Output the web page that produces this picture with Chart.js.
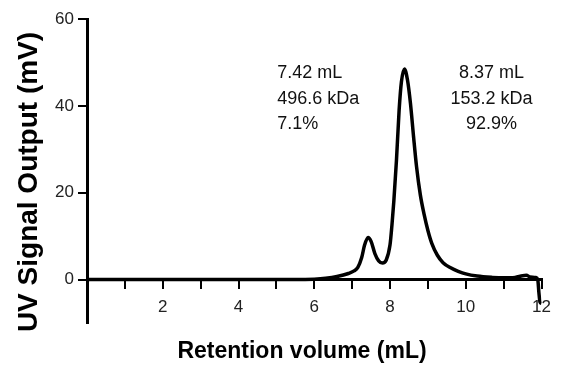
<!DOCTYPE html>
<html lang="en">
<head>
    <meta charset="UTF-8">
    <title>UV trace</title>
    <script src="https://cdn.jsdelivr.net/npm/chart.js"></script>
    <style>
        body {
            margin: 0;
            background: #fff;
        }
        .wrap {
            width: 561px;
            height: 370px;
        }
    </style>
</head>
<body>
    <div class="wrap"><canvas id="traceChart"></canvas></div>

    <script>
        // retention volume (mL) and UV signal (mV)
        const volume = [0, 1, 2, 3, 4, 5, 5.5, 6.0, 6.3, 6.6, 6.9, 7.05, 7.15, 7.25, 7.33, 7.42, 7.5, 7.6, 7.7, 7.8,
            7.9, 8.0, 8.05, 8.1, 8.17, 8.24, 8.3, 8.38, 8.46, 8.54, 8.62, 8.7, 8.8, 8.9, 9.0, 9.1, 9.25, 9.4, 9.6, 9.8,
            10.0, 10.3, 10.7, 11.0, 11.3, 11.5, 11.6, 11.7, 11.85, 11.9, 11.93, 11.96, 12.0];
        const signal = [0, 0, 0, 0, 0, 0, 0, 0.1, 0.3, 0.7, 1.4, 2.0, 2.8, 5.0, 8.0, 9.7, 8.8, 6.0, 4.3, 3.8,
            4.5, 8.0, 12.5, 18, 27.5, 39, 45.5, 48.5, 46, 40.5, 33, 26, 19.5, 15, 11.3, 8.4, 5.6, 3.9, 2.7, 1.9,
            1.3, 0.8, 0.5, 0.4, 0.5, 0.9, 1.0, 0.6, 0.5, 0, -3, -5.2, -5.5];

        const xTicks = [1, 2, 3, 4, 5, 6, 7, 8, 9, 10, 11, 12];
        const yTicks = [0, 20, 40, 60];

        // peak notes: anchor volume, alignment, lines
        const peakNotes = [
            { at: 5.02, align: 'left', lines: ['7.42 mL', '496.6 kDa', '7.1%'] },
            { at: 10.68, align: 'center', lines: ['8.37 mL', '153.2 kDa', '92.9%'] }
        ];
        const xTitle = 'Retention volume (mL)';
        const yTitle = 'UV Signal Output (mV)';

        const FONT = "'Liberation Sans', Arial, sans-serif";

        const textPlugin = {
            id: 'texts',
            afterDraw(chart) {
                const ctx = chart.ctx;
                const xs = chart.scales.x, ys = chart.scales.y;
                ctx.save();
                ctx.fillStyle = '#111';
                ctx.font = '18px ' + FONT;
                ctx.textBaseline = 'alphabetic';
                peakNotes.forEach(n => {
                    ctx.textAlign = n.align;
                    const px = xs.getPixelForValue(n.at);
                    n.lines.forEach((t, i) => {
                        ctx.fillText(t, px, ys.getPixelForValue(46.4) + i * 25.5);
                    });
                });

                // axis titles
                ctx.fillStyle = '#000';
                ctx.font = 'bold 23px ' + FONT;
                ctx.textAlign = 'center';
                ctx.fillText(xTitle, 302, 358);

                ctx.translate(37, 182);
                ctx.rotate(-Math.PI / 2);
                ctx.font = 'bold 28px ' + FONT;
                ctx.fillText(yTitle, 0, 0);
                ctx.restore();
            }
        };

        new Chart(document.getElementById('traceChart'), {
            type: 'line',
            data: {
                datasets: [{
                    data: volume.map((v, i) => ({ x: v, y: signal[i] })),
                    borderColor: '#000',
                    borderWidth: 3.5,
                    pointRadius: 0,
                    fill: false,
                    cubicInterpolationMode: 'monotone'
                }]
            },
            options: {
                responsive: true,
                maintainAspectRatio: false,
                animation: false,
                layout: { padding: { top: 19, right: 18, left: 0, bottom: 47 } },
                plugins: {
                    legend: { display: false },
                    tooltip: { enabled: false }
                },
                scales: {
                    x: {
                        type: 'linear',
                        min: 0,
                        max: 12,
                        position: { y: 0 },
                        afterBuildTicks: s => { s.ticks = xTicks.map(v => ({ value: v })); },
                        grid: {
                            drawOnChartArea: false,
                            drawTicks: true,
                            tickLength: 8,
                            color: '#000',
                            lineWidth: 2
                        },
                        border: { display: true, color: '#000', width: 3 },
                        ticks: {
                            autoSkip: false,
                            maxRotation: 0,
                            padding: 10,
                            color: '#222',
                            font: { size: 17, family: FONT },
                            callback: v => (v % 2 === 0 ? String(v) : '')
                        }
                    },
                    y: {
                        min: -10,
                        max: 60,
                        afterBuildTicks: s => { s.ticks = yTicks.map(v => ({ value: v })); },
                        afterFit: s => { s.width = 87; },
                        grid: {
                            drawOnChartArea: false,
                            drawTicks: true,
                            tickLength: 9,
                            color: '#000',
                            lineWidth: 2
                        },
                        border: { display: true, color: '#000', width: 3 },
                        ticks: {
                            padding: 4,
                            color: '#222',
                            font: { size: 17, family: FONT }
                        }
                    }
                }
            },
            plugins: [textPlugin]
        });
    </script>
</body>
</html>
